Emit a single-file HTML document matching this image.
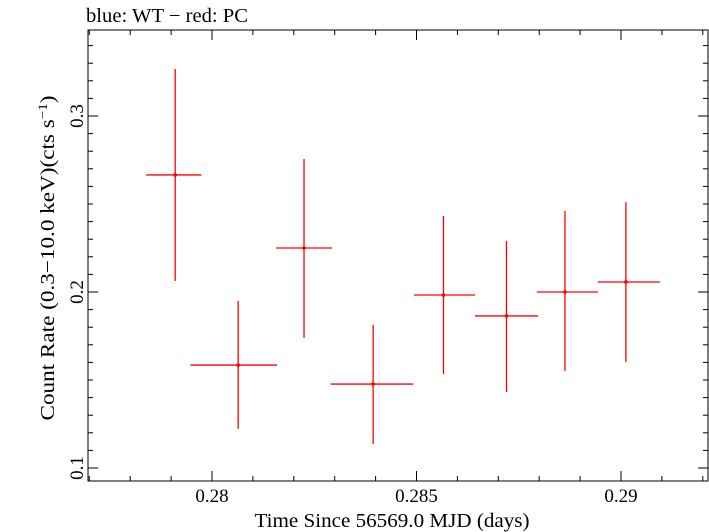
<!DOCTYPE html>
<html><head><meta charset="utf-8"><style>
body{margin:0;background:#fff;}
svg{display:block;font-family:"Liberation Serif",serif;}
</style></head><body>
<svg id="chart" width="709" height="532" viewBox="0 0 709 532" xmlns="http://www.w3.org/2000/svg">
<text x="86" y="22" font-size="20" textLength="162" lengthAdjust="spacingAndGlyphs">blue: WT − red: PC</text>
<rect x="88" y="30" width="620" height="451" fill="none" stroke="#000" stroke-width="1"/>
<g id="axes"></g>
<g id="marks"></g>
<text x="392" y="527" font-size="20" text-anchor="middle" textLength="275" lengthAdjust="spacingAndGlyphs">Time Since 56569.0 MJD (days)</text>
<text transform="translate(54,258) rotate(-90)" font-size="20" text-anchor="middle" textLength="325" lengthAdjust="spacingAndGlyphs">Count Rate (0.3−10.0 keV)(cts s<tspan dy="-7" font-size="13">−1</tspan><tspan dy="7">)</tspan></text>
</svg>
<script>
const times=[0.27910,0.28064,0.28225,0.28394,0.28566,0.28720,0.28863,0.29012];
const tLo=[0.27839,0.27947,0.28157,0.28290,0.28494,0.28643,0.28794,0.28943];
const tHi=[0.27974,0.28159,0.28294,0.28492,0.28643,0.28797,0.28944,0.29095];
const rates=[0.2665,0.1585,0.2250,0.1477,0.1983,0.1864,0.2000,0.2057];
const rateHi=[0.3267,0.1949,0.2756,0.1813,0.2432,0.2290,0.2460,0.2511];
const rateLo=[0.2063,0.1222,0.1739,0.1136,0.1534,0.1432,0.1551,0.1602];
const xTicks=[0.28,0.285,0.29];
const xTickLabels=["0.28","0.285","0.29"];
const yTicks=[0.1,0.2,0.3];
const yTickLabels=["0.1","0.2","0.3"];
const X=v=>212+(v-0.28)*40900;
const Y=v=>292-(v-0.2)*1760;
const NS="http://www.w3.org/2000/svg";
const axes=document.getElementById('axes'),marks=document.getElementById('marks');
function mk(tag,attrs,parent){const e=document.createElementNS(NS,tag);for(const k in attrs)e.setAttribute(k,attrs[k]);parent.appendChild(e);return e;}
for(let i=0;i<=18;i++){const v=0.277+i*0.001;const x=X(v);if(x<88||x>708)continue;
 const major=Math.abs(Math.round(v*200)-v*200)<1e-6;const len=major?10:5;
 const t=mk('line',{x1:x,x2:x,y1:481,y2:481-len,stroke:'#000'},axes);
 
 
 const t2=mk('line',{x1:x,x2:x,y1:30,y2:30+len,stroke:'#000'},axes);
 
 }
xTicks.forEach((v,i)=>{const t=mk('text',{x:X(v),y:502,'font-size':19,'text-anchor':'middle'},axes);t.textContent=xTickLabels[i];
 
 });
for(let i=0;i<=30;i++){const v=0.09+i*0.01;const y=Y(v);if(y<30||y>481)continue;
 const major=Math.abs(Math.round(v*10)-v*10)<1e-6;const len=major?10:5;
 const t=mk('line',{x1:88,x2:88+len,y1:y,y2:y,stroke:'#000'},axes);
 
 
 const t2=mk('line',{x1:708,x2:708-len,y1:y,y2:y,stroke:'#000'},axes);
 
 }
yTicks.forEach((v,i)=>{const t=mk('text',{transform:`translate(83,${Y(v)}) rotate(-90)`,'font-size':19,'text-anchor':'middle'},axes);t.textContent=yTickLabels[i];
 
 });
times.forEach((t,i)=>{const g=mk('g',{stroke:'#f00','stroke-width':1.3},marks);
 
 
 mk('line',{x1:X(tLo[i]),x2:X(tHi[i]),y1:Y(rates[i]),y2:Y(rates[i])},g);
 mk('line',{x1:X(t),x2:X(t),y1:Y(rateHi[i]),y2:Y(rateLo[i])},g);
 mk('circle',{cx:X(t),cy:Y(rates[i]),r:1.8,fill:'#f00',stroke:'none'},g);});
</script>
</body></html>
